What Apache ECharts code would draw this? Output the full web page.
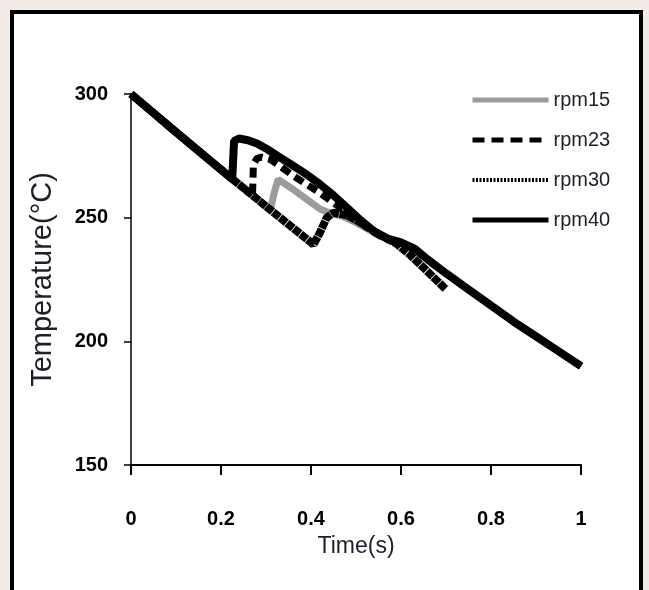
<!DOCTYPE html>
<html>
<head>
<meta charset="utf-8">
<script src="https://cdn.jsdelivr.net/npm/echarts@6/dist/echarts.min.js"></script>
<style>
  html, body { margin: 0; padding: 0; background: #f2ebe8; }
  #chart { width: 649px; height: 590px; }
</style>
</head>
<body>
<div id="chart"></div>
<script>
// series names (legend)
var seriesNames = ['rpm15', 'rpm23', 'rpm30', 'rpm40'];

// axis ticks
var xTicks = [0, 0.2, 0.4, 0.6, 0.8, 1];
var yTicks = [150, 200, 250, 300];

// [time (s), temperature (°C)]
var rpm15 = [[0, 300], [0.05, 292.3], [0.1, 284.6], [0.15, 277], [0.2, 269.4], [0.25, 262], [0.3, 254.6], [0.31, 253.2],
  [0.318, 260], [0.327, 265.5], [0.36, 261.5], [0.39, 257.5], [0.42, 253.5], [0.44, 252], [0.47, 250.5], [0.5, 248],
  [0.53, 245], [0.56, 242], [0.6, 239.5], [0.63, 237.5], [0.66, 233], [0.7, 227.5], [0.75, 221], [0.8, 214.5],
  [0.85, 208], [0.9, 202], [0.95, 196], [1, 190]];
var rpm23 = [[0, 300], [0.05, 292.3], [0.1, 284.6], [0.15, 277], [0.2, 269.4], [0.25, 262], [0.27, 259],
  [0.272, 271.5], [0.28, 274], [0.29, 274.5], [0.31, 273.5], [0.33, 271], [0.36, 267], [0.39, 263.5], [0.42, 260],
  [0.45, 256], [0.48, 252], [0.51, 248], [0.54, 244], [0.57, 241], [0.6, 239.5], [0.63, 237.5], [0.66, 233],
  [0.7, 227.5], [0.75, 221], [0.8, 214.5], [0.85, 208], [0.9, 202], [0.95, 196], [1, 190]];
var rpm30 = [[0, 300], [0.05, 292.3], [0.1, 284.6], [0.15, 277], [0.2, 269.4], [0.25, 262], [0.3, 254.6], [0.35, 247.3],
  [0.4, 240], [0.405, 239], [0.42, 244], [0.435, 250], [0.45, 252], [0.48, 251], [0.51, 248], [0.54, 244.5],
  [0.57, 241.5], [0.59, 239.5], [0.62, 235], [0.66, 228], [0.7, 221]];
var rpm40 = [[0, 300], [0.05, 292.3], [0.1, 284.6], [0.15, 277], [0.2, 269.4], [0.225, 265.6], [0.229, 281],
  [0.24, 282], [0.26, 281.3], [0.28, 280], [0.3, 278], [0.33, 274.5], [0.36, 271], [0.39, 267.5], [0.42, 263.5],
  [0.45, 259], [0.48, 254], [0.51, 249], [0.54, 244.5], [0.57, 241.5], [0.6, 240], [0.63, 237.5], [0.66, 233],
  [0.7, 227.5], [0.75, 221], [0.8, 214.5], [0.85, 208], [0.9, 202], [0.95, 196], [1, 190]];

var font = '"Liberation Sans", Arial, sans-serif';

var chart = echarts.init(document.getElementById('chart'), null, { renderer: 'canvas' });

var option = {
  animation: false,
  backgroundColor: 'transparent',
  graphic: [
    {
      type: 'rect',
      z: -10,
      shape: { x: 12, y: 12, width: 629, height: 600 },
      style: { fill: '#ffffff', stroke: '#000000', lineWidth: 4 }
    }
  ],
  grid: { left: 131, right: 68, top: 94, bottom: 125 },
  legend: {
    orient: 'vertical',
    left: 465,
    top: 85,
    itemWidth: 76,
    itemHeight: 20,
    itemGap: 20,
    itemStyle: { opacity: 0 },
    lineStyle: { width: 5 },
    textStyle: { fontFamily: font, fontSize: 20, color: '#1e1e2a', lineHeight: 20 },
    data: [
      { name: seriesNames[0] },
      { name: seriesNames[1], lineStyle: { type: [12, 7] } },
      { name: seriesNames[2], lineStyle: { type: [2, 1.5], width: 4 } },
      { name: seriesNames[3] }
    ]
  },
  xAxis: {
    type: 'value',
    min: 0,
    max: 1,
    interval: 0.2,
    name: 'Time(s)',
    nameLocation: 'middle',
    nameGap: 70,
    nameTextStyle: { fontFamily: font, fontSize: 23, color: '#1e1e2a' },
    axisLine: { lineStyle: { color: '#000', width: 2 } },
    axisTick: { length: 10, lineStyle: { color: '#000', width: 2 } },
    axisLabel: {
      margin: 44,
      fontFamily: font, fontSize: 20, fontWeight: 'bold', color: '#000',
      formatter: function (v) { return xTicks.indexOf(v) >= 0 ? String(v) : ''; }
    },
    splitLine: { show: false }
  },
  yAxis: {
    type: 'value',
    min: 150,
    max: 300,
    interval: 50,
    name: 'Temperature(°C)',
    nameLocation: 'middle',
    nameRotate: 90,
    nameGap: 74,
    nameTextStyle: { fontFamily: font, fontSize: 29, color: '#1e1e2a' },
    axisLine: { show: true, lineStyle: { color: '#000', width: 1.5 } },
    axisTick: { show: true, length: 7, lineStyle: { color: '#000', width: 1.5 } },
    axisLabel: {
      margin: 23,
      fontFamily: font, fontSize: 20, fontWeight: 'bold', color: '#000',
      formatter: function (v) { return yTicks.indexOf(v) >= 0 ? String(v) : ''; }
    },
    splitLine: { show: false }
  },
  series: [
    {
      name: 'rpm15', type: 'line', data: rpm15, symbol: 'none',
      lineStyle: { color: '#9c9c9c', width: 7 }, itemStyle: { color: '#9c9c9c' }
    },
    {
      name: 'rpm23', type: 'line', data: rpm23, symbol: 'none',
      lineStyle: { color: '#000', width: 7, type: [10, 6] }, itemStyle: { color: '#000' }
    },
    {
      name: 'rpm30', type: 'line', data: rpm30, symbol: 'none',
      lineStyle: { color: '#000', width: 8, type: [8, 0.8] }, itemStyle: { color: '#000' }
    },
    {
      name: 'rpm40', type: 'line', data: rpm40, symbol: 'none',
      lineStyle: { color: '#000', width: 8 }, itemStyle: { color: '#000' }
    }
  ]
};

chart.setOption(option);
</script>
</body>
</html>
